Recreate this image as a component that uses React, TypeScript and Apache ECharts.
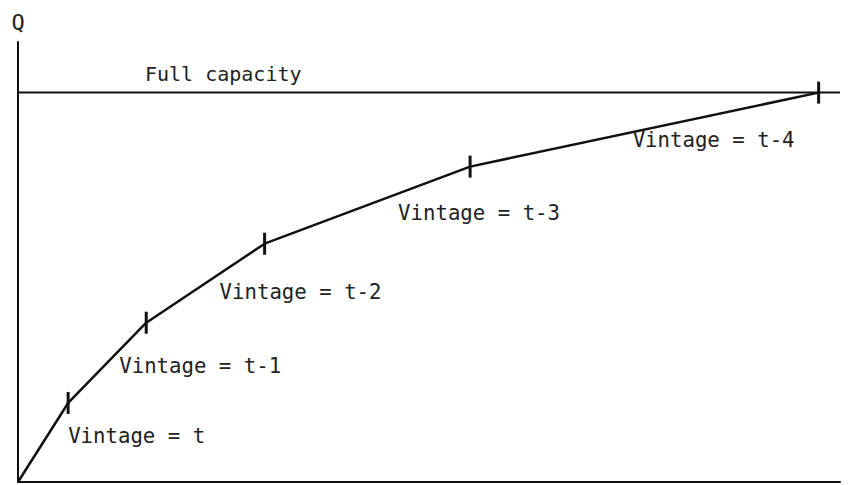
import React, { useEffect, useRef } from "react";
import * as echarts from "echarts";

const xValues = [0, 6.1, 15.6, 30.0, 55.0, 97.4];
const qValues = [0, 20.3, 40.9, 61.2, 81.0, 100];
const vintageLabels = ["", "Vintage = t", "Vintage = t-1", "Vintage = t-2", "Vintage = t-3", "Vintage = t-4"];
const fullCapacity = 100;
const capacityLabel = "Full capacity";
const axisName = "Q";

// label offsets (pixels, left edge / vertical middle relative to point)
const labelOffsets: [number, number][] = [[0, 0], [0, 33], [-27, 43], [-45, 48], [-72, 46], [-186, 47]];

const FONT = "'DejaVu Sans Mono', monospace";
const TICK_W = 3;
const TICK_H = 22;

export default function App() {
  const ref = useRef<HTMLDivElement>(null);
  useEffect(() => {
    if (!ref.current) return;
    const chart = echarts.init(ref.current, undefined, { renderer: "svg" });
    const data = xValues.map((x, i) => {
      const [dx, dy] = labelOffsets[i];
      return {
        value: [x, qValues[i]],
        symbol: i === 0 ? "none" : "rect",
        label: {
          show: i > 0,
          formatter: vintageLabels[i],
          position: [dx + TICK_W / 2, dy + TICK_H / 2],
          align: "left",
          verticalAlign: "middle",
        },
      };
    });
    chart.setOption({
      animation: false,
      backgroundColor: "#ffffff",
      grid: { left: 18, right: 9, top: 42, bottom: 3, containLabel: false },
      xAxis: {
        type: "value",
        min: 0,
        max: 100,
        axisLine: { show: true, onZero: false, lineStyle: { color: "#111", width: 2 } },
        axisTick: { show: false },
        axisLabel: { show: false },
        splitLine: { show: false },
      },
      yAxis: {
        type: "value",
        min: 0,
        max: 113,
        name: axisName,
        nameLocation: "end",
        nameGap: 9,
        nameTextStyle: { fontFamily: FONT, fontSize: 22, color: "#222", align: "center" },
        axisLine: { show: true, onZero: false, lineStyle: { color: "#111", width: 2 } },
        axisTick: { show: false },
        axisLabel: { show: false },
        splitLine: { show: false },
      },
      series: [
        {
          type: "line",
          data: [
            {
              value: [0, fullCapacity],
              label: {
                show: true,
                formatter: capacityLabel,
                position: [127, -19],
                align: "left",
                verticalAlign: "middle",
              },
            },
            { value: [100, fullCapacity], label: { show: false } },
          ],
          symbol: "circle",
          symbolSize: 0,
          lineStyle: { color: "#111", width: 2 },
          itemStyle: { color: "#111" },
          label: { fontFamily: FONT, fontSize: 20, color: "#222" },
          silent: true,
        },
        {
          type: "line",
          data,
          symbolSize: [TICK_W, TICK_H],
          lineStyle: { color: "#111", width: 2.5 },
          itemStyle: { color: "#111" },
          label: { fontFamily: FONT, fontSize: 20.7, color: "#222" },
          z: 3,
          silent: true,
        },
      ],
    });
    return () => chart.dispose();
  }, []);
  return <div ref={ref} style={{ width: 849, height: 485, position: "fixed", left: 0, top: 0 }} />;
}
